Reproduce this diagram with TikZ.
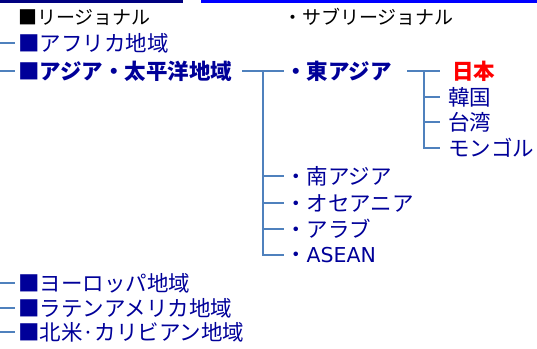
\documentclass[tikz,border=0pt]{standalone}
\usepackage{fontspec}
\setmainfont{Noto Sans CJK JP}
\newfontfamily\latinfont{DejaVu Sans}
\definecolor{navy}{HTML}{000099}
\definecolor{barnavy}{HTML}{000080}
\definecolor{barblue}{HTML}{0000FF}
\definecolor{linkblue}{HTML}{4F81BD}
\definecolor{jpred}{HTML}{FF0000}
\tikzset{
  lbl/.style={anchor=west,inner sep=0pt,font=\fontsize{21.5}{21.5}\selectfont,text=navy},
  hdr/.style={lbl,text=black,font=\fontsize{19}{19}\selectfont},
  bld/.style={lbl,font=\fontsize{21.5}{21.5}\selectfont\bfseries},
  link/.style={draw=linkblue,line width=1.6pt}
}
\begin{document}
\begin{tikzpicture}[x=1pt,y=-1pt]
\useasboundingbox (0,0) rectangle (537,348);
\fill[barnavy] (0,0) rectangle (183,2.5);
\fill[barblue] (201,0) rectangle (537,2.5);
% headers
\node[hdr] (reg) at (18,17) {■リージョナル};
\node[hdr] (sub) at (283,17) {・サブリージョナル};
% regions
\node[lbl] (afr) at (18,43) {■アフリカ地域};
\node[bld] (asia) at (18,71) {■アジア・太平洋地域};
\node[lbl] (eur) at (18,283) {■ヨーロッパ地域};
\node[lbl] (lat) at (18,308) {■ラテンアメリカ地域};
\node[lbl] (nam) at (18,332) {■北米·カリビアン地域};
% subregions
\node[bld] (ea) at (285,71) {・東アジア};
\node[lbl] (sa) at (285,176) {・南アジア};
\node[lbl] (oc) at (285,203) {・オセアニア};
\node[lbl] (ar) at (285,229) {・アラブ};
\node[lbl] (asean) at (285,255) {・{\latinfont\fontsize{20.5}{20.5}\selectfont ASEAN}};
% countries
\node[bld,text=jpred] (jp) at (452,71) {日本};
\node[lbl] (kr) at (448,97) {韓国};
\node[lbl] (tw) at (448,122) {台湾};
\node[lbl] (mn) at (448,148) {モンゴル};
% left stubs
\foreach \n in {afr,asia,eur,lat,nam}{
  \coordinate (s\n) at (0,0 |- \n.west);
  \draw[link] (s\n) -- ([xshift=-3pt]\n.west);
}
% asia tree
\coordinate (ta) at (263,71);
\coordinate (ha) at (242,71);
\draw[link] (ha) -- ([xshift=-1pt]ea.west);
\draw[link] (ta) |- ([xshift=-1pt]asean.west);
\foreach \n in {sa,oc,ar}{
  \draw[link] (ta |- \n.west) -- ([xshift=-1pt]\n.west);
}
% east asia tree
\coordinate (te) at (424,71);
\coordinate (he) at (407,71);
\draw[link] (he) -- ([xshift=-12pt]jp.west);
\draw[link] (te) |- ([xshift=-8pt]mn.west);
\foreach \n in {kr,tw}{
  \draw[link] (te |- \n.west) -- ([xshift=-8pt]\n.west);
}
\end{tikzpicture}
\end{document}
